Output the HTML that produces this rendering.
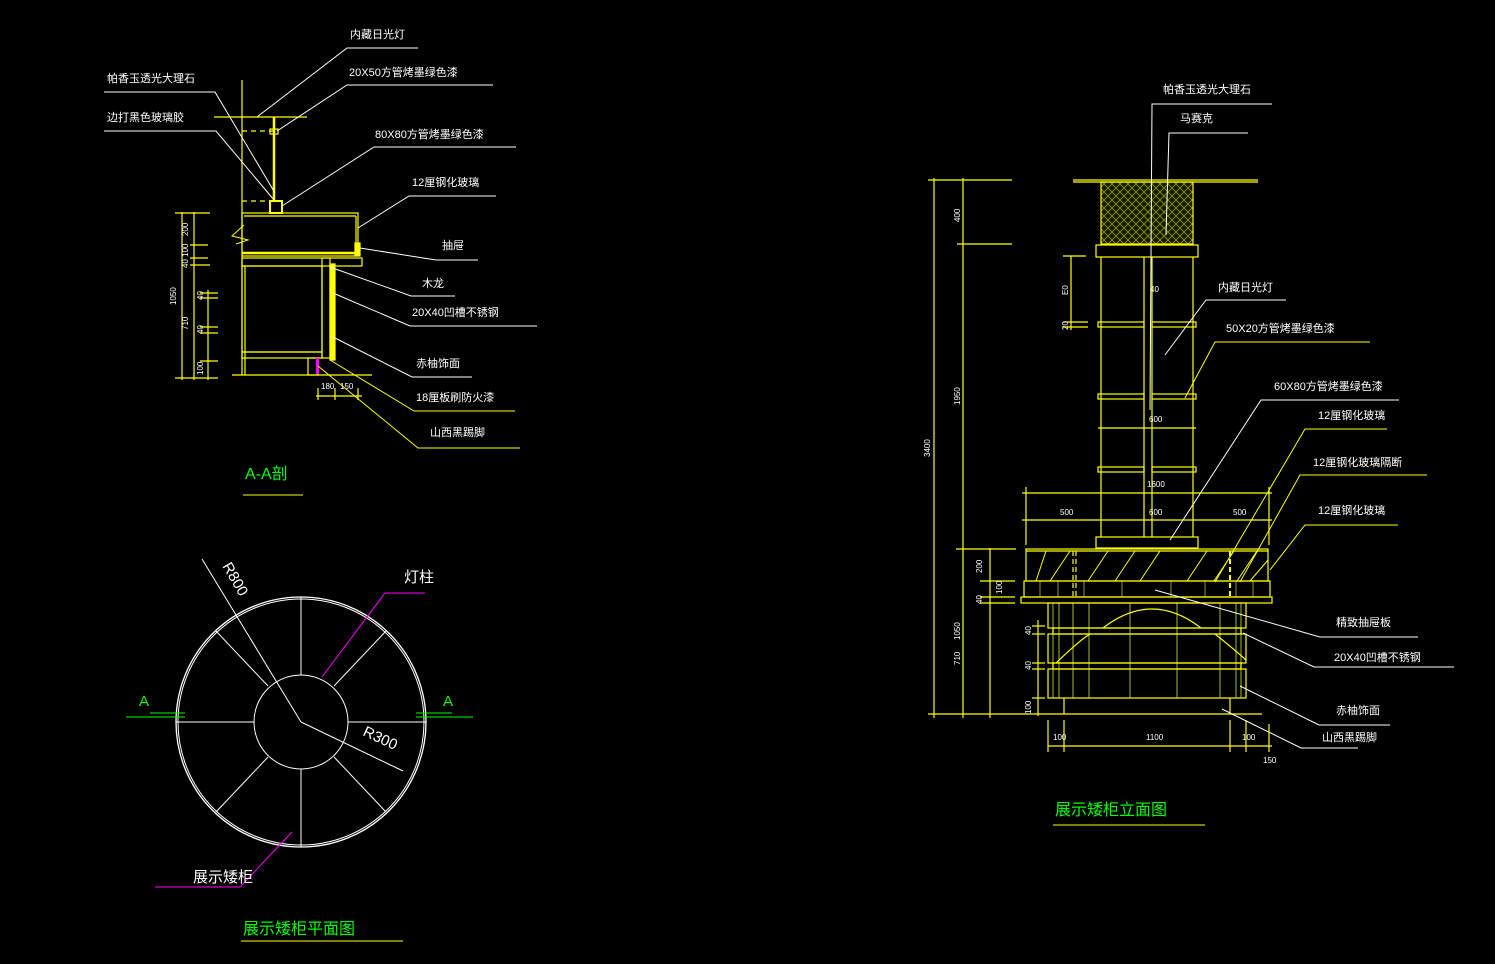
<!DOCTYPE html>
<html><head><meta charset="utf-8"><style>
html,body{margin:0;padding:0;background:#000;}
svg{display:block}
text{font-family:"Liberation Sans","Noto Sans CJK SC",sans-serif;}
.w{fill:#fff;font-size:11px}
.g{fill:#00ff00;font-size:16px}
.d{fill:#fff;font-size:8px}
</style></head><body>
<svg width="1495" height="964" viewBox="0 0 1495 964" xmlns="http://www.w3.org/2000/svg">
<defs>
<pattern id="mesh" width="8" height="8" patternUnits="userSpaceOnUse">
<rect width="8" height="8" fill="#1a1a00"/>
<path d="M0 0L8 8M8 0L0 8" stroke="#8a9a20" stroke-width="0.8"/>
</pattern>
</defs>
<rect width="1495" height="964" fill="#000"/>

<!-- ===== A-A section ===== -->
<g stroke="#ffff00" fill="none" stroke-width="1.2">
<line x1="242" y1="80" x2="242" y2="375"/>
<line x1="214" y1="117" x2="307" y2="117"/>
<line x1="242" y1="131" x2="275" y2="131" stroke-dasharray="5,4"/>
<line x1="242" y1="201" x2="270" y2="201" stroke-dasharray="5,4"/>
<line x1="274" y1="117" x2="274" y2="201" stroke-width="2.5"/>
<rect x="270" y="129" width="8" height="5"/>
<rect x="270" y="201" width="12" height="12" stroke-width="2"/>
<rect x="242" y="213" width="116" height="43"/>
<line x1="244" y1="216" x2="356" y2="216"/>
<line x1="356" y1="216" x2="356" y2="250"/>
<polyline points="244,225 232,236 248,240 236,244" stroke-width="1"/>
<line x1="242" y1="253" x2="356" y2="253" stroke-width="2.5"/>
<rect x="355" y="243" width="5" height="13" fill="#ffff00"/>
<rect x="242" y="258" width="120" height="8"/>
<rect x="242" y="266" width="80" height="86"/>
<line x1="245" y1="266" x2="245" y2="375"/>
<rect x="242" y="352" width="80" height="6"/>
<rect x="322" y="258" width="8" height="100"/>
<rect x="330" y="264" width="5" height="96" fill="#ffff00"/>
<rect x="308" y="358" width="10" height="17"/>
<line x1="232" y1="375" x2="372" y2="375"/>
<line x1="182" y1="212" x2="182" y2="380"/>
<line x1="194" y1="212" x2="194" y2="380"/>
<line x1="175" y1="213" x2="210" y2="213"/>
<line x1="190" y1="245" x2="208" y2="245"/>
<line x1="190" y1="258" x2="208" y2="258"/>
<line x1="190" y1="265" x2="210" y2="265"/>
<line x1="175" y1="378" x2="218" y2="378"/>
<line x1="200" y1="293" x2="218" y2="293"/><line x1="200" y1="298" x2="218" y2="298"/>
<line x1="200" y1="327" x2="218" y2="327"/><line x1="200" y1="333" x2="218" y2="333"/>
<line x1="200" y1="361" x2="218" y2="361"/>
<line x1="208" y1="290" x2="208" y2="380"/>
<line x1="316" y1="396" x2="362" y2="396"/>
<line x1="318" y1="388" x2="318" y2="400"/><line x1="335" y1="388" x2="335" y2="400"/><line x1="358" y1="388" x2="358" y2="400"/>
</g>
<rect x="316" y="358" width="3" height="16" fill="#ff00ff"/>
<g class="d">
<text x="188" y="236" transform="rotate(-90 188 236)">200</text>
<text x="188" y="268" transform="rotate(-90 188 268)">40 100</text>
<text x="176" y="305" transform="rotate(-90 176 305)">1050</text>
<text x="188" y="330" transform="rotate(-90 188 330)">710</text>
<text x="203" y="300" transform="rotate(-90 203 300)">40</text>
<text x="203" y="334" transform="rotate(-90 203 334)">40</text>
<text x="203" y="375" transform="rotate(-90 203 375)">100</text>
<text x="321" y="389">180</text><text x="340" y="389">150</text>
</g>
<g stroke="#fff" stroke-width="1" fill="none">
<polyline points="418,48 347,48 257,117"/>
<polyline points="493,85 347,85 277,131"/>
<polyline points="516,147 374,147 282,206"/>
<polyline points="496,196 409,196 358,228"/>
<polyline points="478,260 436,260 360,248"/>
<polyline points="455,296 411,296 330,267"/>
<polyline points="537,326 410,326 333,293"/>
<polyline points="472,377 412,377 333,337"/>
<polyline points="104,92 215,92 275,193"/>
<polyline points="104,131 216,131 274,200"/>
</g>
<g stroke="#ffff00" stroke-width="1" fill="none">
<polyline points="515,411 414,411 330,360"/>
<polyline points="520,448 418,448 318,366"/>
</g>
<g class="w">
<text x="350" y="38">内藏日光灯</text>
<text x="349" y="76">20X50方管烤墨绿色漆</text>
<text x="375" y="138">80X80方管烤墨绿色漆</text>
<text x="412" y="186">12厘钢化玻璃</text>
<text x="442" y="249">抽屉</text>
<text x="422" y="287">木龙</text>
<text x="412" y="316">20X40凹槽不锈钢</text>
<text x="416" y="367">赤柚饰面</text>
<text x="416" y="401">18厘板刷防火漆</text>
<text x="430" y="436">山西黑踢脚</text>
<text x="107" y="82">帕香玉透光大理石</text>
<text x="107" y="121">边打黑色玻璃胶</text>
</g>
<text class="g" x="245" y="479">A-A剖</text>
<line x1="243" y1="495" x2="303" y2="495" stroke="#ffff00"/>

<!-- ===== plan ===== -->
<g stroke="#fff" fill="none" stroke-width="1">
<circle cx="301" cy="722" r="125" stroke-width="1.3"/>
<circle cx="301" cy="722" r="123"/>
<circle cx="301" cy="722" r="47"/>
<line x1="301" y1="597" x2="301" y2="675"/>
<line x1="301" y1="769" x2="301" y2="847"/>
<line x1="176" y1="722" x2="254" y2="722"/>
<line x1="348" y1="722" x2="426" y2="722"/>
<line x1="216" y1="631" x2="268" y2="686"/>
<line x1="386" y1="631" x2="334" y2="686"/>
<line x1="216" y1="812" x2="268" y2="757"/>
<line x1="386" y1="812" x2="334" y2="757"/>
<line x1="202" y1="559" x2="301" y2="722"/>
<line x1="301" y1="722" x2="403" y2="771"/>
</g>
<text x="222" y="566" fill="#fff" font-size="15" transform="rotate(60 222 566)" font-family="Liberation Sans">R800</text>
<text x="362" y="735" fill="#fff" font-size="15" transform="rotate(25 362 735)" font-family="Liberation Sans">R300</text>
<g stroke="#ff00ff" fill="none">
<polyline points="425,593 385,593 322,677"/>
<polyline points="155,887 240,887 292,832"/>
</g>
<text x="404" y="582" fill="#fff" font-size="15">灯柱</text>
<text x="193" y="882" fill="#fff" font-size="15">展示矮柜</text>
<g stroke="#00ff00"><line x1="126" y1="717" x2="185" y2="717"/><line x1="150" y1="713" x2="185" y2="713"/>
<line x1="416" y1="717" x2="473" y2="717"/><line x1="416" y1="713" x2="452" y2="713"/></g>
<text x="139" y="706" fill="#00ff00" font-size="15">A</text>
<text x="443" y="706" fill="#00ff00" font-size="15">A</text>
<text class="g" x="243" y="934">展示矮柜平面图</text>
<line x1="241" y1="941" x2="403" y2="941" stroke="#ffff00"/>

<!-- ===== elevation ===== -->
<rect x="1101" y="182" width="92" height="62" fill="url(#mesh)"/>
<!-- olive verticals in cabinet -->
<g stroke="#8a9a20" stroke-width="1.2">
<line x1="1053" y1="603" x2="1053" y2="698"/><line x1="1059" y1="603" x2="1059" y2="698"/>
<line x1="1073" y1="603" x2="1073" y2="698"/><line x1="1089" y1="603" x2="1089" y2="698"/>
<line x1="1130" y1="603" x2="1130" y2="698"/><line x1="1177" y1="603" x2="1177" y2="698"/>
<line x1="1220" y1="603" x2="1220" y2="698"/><line x1="1236" y1="603" x2="1236" y2="698"/>
<line x1="1241" y1="603" x2="1241" y2="698"/>
</g>
<g stroke="#ffff00" stroke-width="1">
<line x1="1036" y1="581" x2="1046" y2="551"/><line x1="1050" y1="581" x2="1070" y2="551"/>
<line x1="1088" y1="581" x2="1108" y2="551"/><line x1="1115" y1="581" x2="1135" y2="551"/>
<line x1="1140" y1="581" x2="1160" y2="551"/><line x1="1187" y1="581" x2="1207" y2="551"/>
<line x1="1214" y1="581" x2="1234" y2="551"/><line x1="1237" y1="581" x2="1257" y2="551"/>
<line x1="1250" y1="581" x2="1268" y2="560"/>
</g>
<g stroke="#8a9a20" stroke-width="1">
<line x1="1040" y1="581" x2="1040" y2="597"/><line x1="1058" y1="581" x2="1058" y2="597"/>
<line x1="1084" y1="581" x2="1084" y2="597"/><line x1="1122" y1="581" x2="1122" y2="597"/>
<line x1="1171" y1="581" x2="1171" y2="597"/><line x1="1205" y1="581" x2="1205" y2="597"/>
<line x1="1236" y1="581" x2="1236" y2="597"/><line x1="1253" y1="581" x2="1253" y2="597"/>
</g>
<g stroke="#ffff00" fill="none" stroke-width="1.2">
<line x1="1073" y1="180" x2="1258" y2="180"/><line x1="1073" y1="182" x2="1258" y2="182"/>
<rect x="1101" y="182" width="92" height="62"/>
<rect x="1096" y="245" width="102" height="12"/>
<line x1="1101" y1="257" x2="1101" y2="537"/><line x1="1193" y1="257" x2="1193" y2="537"/>
<line x1="1144" y1="257" x2="1144" y2="537"/><line x1="1152" y1="257" x2="1152" y2="537"/>
<rect x="1098" y="322" width="46" height="5"/><rect x="1152" y="322" width="44" height="5"/>
<rect x="1098" y="394" width="46" height="5"/><rect x="1152" y="394" width="44" height="5"/>
<rect x="1098" y="467" width="46" height="5"/><rect x="1152" y="467" width="44" height="5"/>
<line x1="1098" y1="428" x2="1196" y2="428"/>
<rect x="1096" y="537" width="102" height="11"/>
<rect x="1026" y="549" width="242" height="32"/>
<line x1="1026" y1="551" x2="1268" y2="551"/>
<line x1="1073" y1="551" x2="1073" y2="597" stroke-dasharray="5,3"/><line x1="1076" y1="551" x2="1076" y2="597" stroke-dasharray="5,3"/>
<line x1="1230" y1="551" x2="1230" y2="597" stroke-dasharray="5,3" stroke-width="2"/>
<rect x="1024" y="581" width="246" height="16"/>
<rect x="1021" y="597" width="251" height="6"/>
<rect x="1048" y="603" width="198" height="25"/>
<rect x="1053" y="628" width="188" height="6"/>
<rect x="1048" y="634" width="198" height="29"/>
<rect x="1053" y="663" width="188" height="6"/>
<rect x="1048" y="669" width="198" height="29"/>
<line x1="1064" y1="698" x2="1064" y2="714"/><line x1="1230" y1="698" x2="1230" y2="714"/>
<line x1="1040" y1="714" x2="1262" y2="714"/>
<path d="M1103,628 Q1152,590 1201,628"/>
<path d="M1056,663 Q1080,640 1090,634 M1215,634 Q1235,650 1246,660"/>
<line x1="934" y1="178" x2="934" y2="718"/><line x1="963" y1="178" x2="963" y2="718"/>
<line x1="928" y1="180" x2="1012" y2="180"/><line x1="957" y1="244" x2="1012" y2="244"/>
<line x1="928" y1="714" x2="1040" y2="714"/>
<line x1="956" y1="549" x2="1016" y2="549"/>
<line x1="990" y1="548" x2="990" y2="718"/>
<line x1="980" y1="581" x2="1015" y2="581"/><line x1="980" y1="597" x2="1015" y2="597"/><line x1="980" y1="603" x2="1015" y2="603"/>
<line x1="1032" y1="626" x2="1045" y2="626"/><line x1="1032" y1="634" x2="1045" y2="634"/>
<line x1="1032" y1="663" x2="1045" y2="663"/><line x1="1032" y1="669" x2="1045" y2="669"/>
<line x1="1032" y1="698" x2="1045" y2="698"/>
<line x1="1038" y1="620" x2="1038" y2="716"/>
<line x1="1022" y1="493" x2="1272" y2="493"/><line x1="1022" y1="520" x2="1272" y2="520"/>
<line x1="1026" y1="487" x2="1026" y2="545"/><line x1="1269" y1="487" x2="1269" y2="545"/>
<line x1="1071" y1="256" x2="1071" y2="330"/><line x1="1063" y1="256" x2="1086" y2="256"/>
<line x1="1063" y1="322" x2="1088" y2="322"/><line x1="1063" y1="327" x2="1088" y2="327"/>
<line x1="1048" y1="746" x2="1272" y2="746"/>
<line x1="1048" y1="720" x2="1048" y2="752"/><line x1="1064" y1="720" x2="1064" y2="752"/>
<line x1="1230" y1="720" x2="1230" y2="752"/><line x1="1246" y1="720" x2="1246" y2="752"/><line x1="1269" y1="724" x2="1269" y2="752"/>
</g>
<g class="d">
<text x="960" y="222" transform="rotate(-90 960 222)">400</text>
<text x="960" y="405" transform="rotate(-90 960 405)">1950</text>
<text x="930" y="457" transform="rotate(-90 930 457)">3400</text>
<text x="1068" y="295" transform="rotate(-90 1068 295)">E0</text>
<text x="1068" y="330" transform="rotate(-90 1068 330)">20</text>
<text x="960" y="640" transform="rotate(-90 960 640)">1050</text>
<text x="960" y="665" transform="rotate(-90 960 665)">710</text>
<text x="982" y="573" transform="rotate(-90 982 573)">200</text>
<text x="1002" y="594" transform="rotate(-90 1002 594)">100</text>
<text x="982" y="604" transform="rotate(-90 982 604)">40</text>
<text x="1031" y="635" transform="rotate(-90 1031 635)">40</text>
<text x="1031" y="670" transform="rotate(-90 1031 670)">40</text>
<text x="1031" y="714" transform="rotate(-90 1031 714)">100</text>
<text x="1150" y="292">40</text>
<text x="1149" y="422">600</text>
<text x="1147" y="487">1600</text>
<text x="1060" y="515">500</text><text x="1149" y="515">600</text><text x="1233" y="515">500</text>
<text x="1053" y="740">100</text><text x="1146" y="740">1100</text><text x="1242" y="740">100</text><text x="1263" y="763">150</text>
</g>
<g stroke="#fff" fill="none" stroke-width="1">
<polyline points="1272,104 1152,104 1150,410"/>
<polyline points="1248,133 1169,133 1166,235"/>
<polyline points="1286,300 1206,300 1165,355"/>
<polyline points="1399,400 1261,400 1170,540"/>
<polyline points="1418,637 1320,637 1155,590"/>
<polyline points="1454,667 1314,667 1243,633"/>
<polyline points="1390,725 1319,725 1240,686"/>
<polyline points="1358,748 1301,748 1222,709"/>
</g>
<g stroke="#ffff00" fill="none" stroke-width="1">
<polyline points="1370,342 1215,342 1185,398"/>
<polyline points="1387,429 1305,429 1215,582"/>
<polyline points="1427,475 1300,475 1240,582"/>
<polyline points="1398,525 1305,525 1270,570"/>
</g>
<g class="w">
<text x="1163" y="93">帕香玉透光大理石</text>
<text x="1180" y="122">马赛克</text>
<text x="1218" y="291">内藏日光灯</text>
<text x="1226" y="332">50X20方管烤墨绿色漆</text>
<text x="1274" y="390">60X80方管烤墨绿色漆</text>
<text x="1318" y="419">12厘钢化玻璃</text>
<text x="1313" y="466">12厘钢化玻璃隔断</text>
<text x="1318" y="514">12厘钢化玻璃</text>
<text x="1336" y="626">精致抽屉板</text>
<text x="1334" y="661">20X40凹槽不锈钢</text>
<text x="1336" y="714">赤柚饰面</text>
<text x="1322" y="741">山西黑踢脚</text>
</g>
<text class="g" x="1055" y="815">展示矮柜立面图</text>
<line x1="1053" y1="825" x2="1205" y2="825" stroke="#ffff00"/>
</svg>
</body></html>
